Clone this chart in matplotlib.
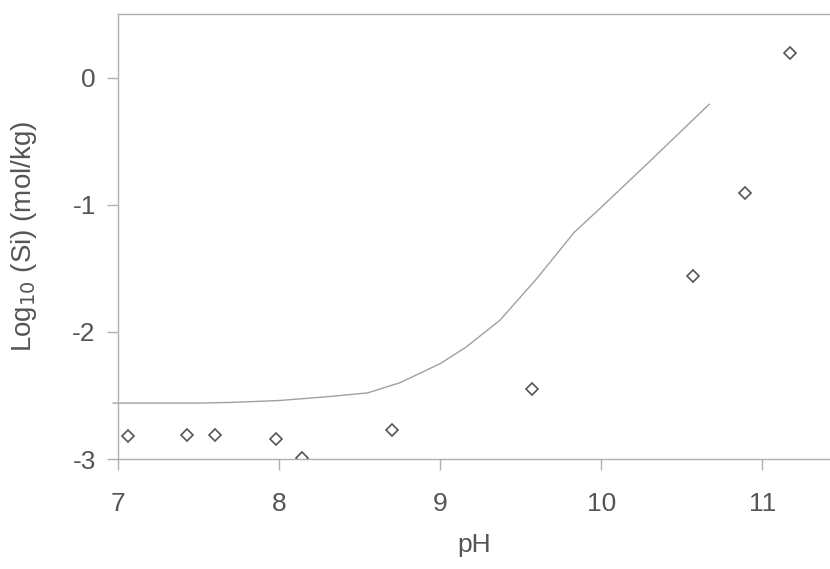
import matplotlib
matplotlib.use('Agg')
import matplotlib.pyplot as plt

# measured points
ph_meas = [7.06, 7.43, 7.60, 7.98, 8.14, 8.70, 9.57, 10.57, 10.89, 11.17]
si_meas = [-2.82, -2.81, -2.81, -2.84, -2.99, -2.77, -2.45, -1.56, -0.91, 0.19]

# model curve
ph_model = [6.97, 7.5, 7.7, 8.0, 8.3, 8.55, 8.75, 9.0, 9.16, 9.37, 9.6, 9.83, 10.0, 10.3, 10.67]
si_model = [-2.56, -2.56, -2.555, -2.54, -2.51, -2.48, -2.40, -2.25, -2.12, -1.91, -1.58, -1.22, -1.02, -0.66, -0.21]

plt.rcParams['font.family'] = ['Liberation Sans', 'DejaVu Sans']
plt.rcParams['axes.unicode_minus'] = False
txt = '#555555'

fig = plt.figure(figsize=(8.3, 5.69), dpi=100)
ax = fig.add_axes([0.1422, 0.1933, 0.8578, 0.7821])

ax.plot(ph_model, si_model, color='#a0a0a0', lw=1.0, clip_on=False)
ax.plot(ph_meas, si_meas, linestyle='none', marker='D', markersize=6.5,
        markerfacecolor='white', markeredgecolor='#555555', markeredgewidth=1.2)

ax.set_xlim(7, 11.42)
ax.set_ylim(-3, 0.5)
ax.set_xticks([7, 8, 9, 10, 11])
ax.set_yticks([-3, -2, -1, 0])

for s in ['left', 'bottom', 'top']:
    ax.spines[s].set_color('#b0b0b0')
    ax.spines[s].set_linewidth(1.0)
ax.spines['right'].set_visible(False)

ax.tick_params(axis='both', colors='#b0b0b0', labelcolor=txt, labelsize=19,
               length=8, width=1.0, direction='out')
ax.tick_params(axis='x', pad=16)
ax.tick_params(axis='y', pad=8)

ax.set_xlabel('pH', fontsize=19, color=txt, labelpad=12)
ax.set_ylabel('Log$_{10}$ (Si) (mol/kg)', fontsize=20, color=txt, labelpad=24)

fig.savefig('out.png', dpi=100)
